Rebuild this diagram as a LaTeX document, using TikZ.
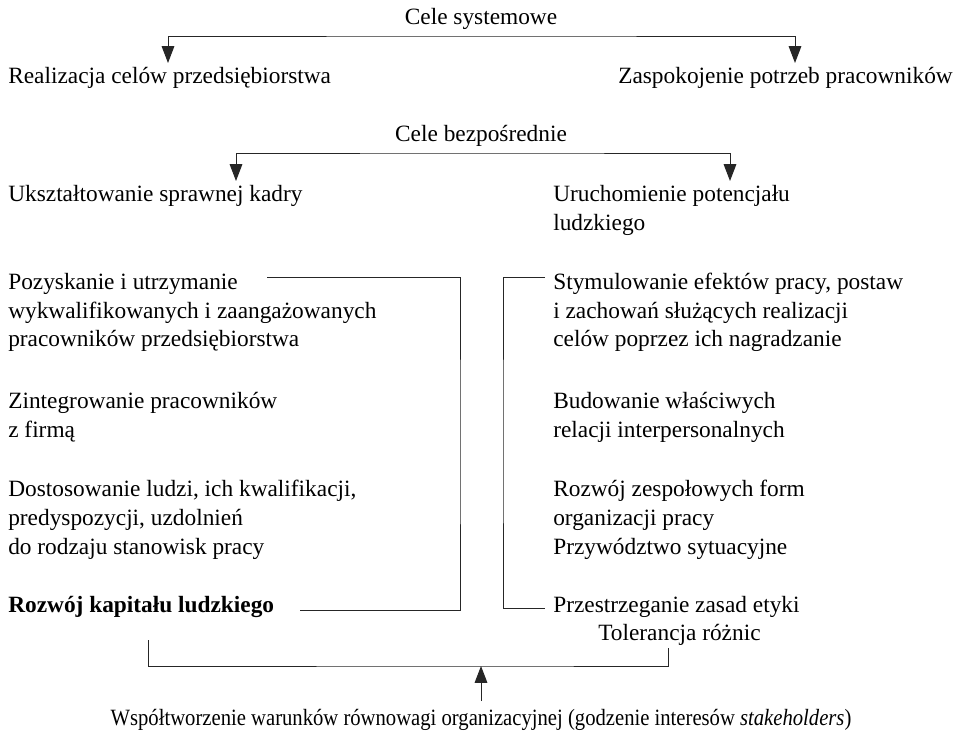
\documentclass[tikz,border=0pt]{standalone}
\usepackage{fontspec}
\setmainfont{Liberation Serif}
\newfontfamily\narrowSerif{Liberation Serif}[FakeStretch=0.885]
\usepackage{tikz}
\usetikzlibrary{arrows.meta}

\begin{document}
\begin{tikzpicture}[
							x=0.025cm, y=-0.025cm,
							txtLeft/.style={anchor=base west, inner sep=0pt, align=left, font=\fontsize{16.6pt}{20.3pt}\selectfont},
							txtMid/.style={anchor=base, inner sep=0pt, align=center, font=\fontsize{16.6pt}{20.3pt}\selectfont},
							line/.style={draw=black!85, line width=0.7pt},
							arrDown/.style={line, -{Triangle[length=12pt, width=9pt]}},
							arrBoth/.style={line, {Triangle[length=12pt, width=9pt]}-{Triangle[length=12pt, width=9pt]}}
						]
						\useasboundingbox (0,0) rectangle (960,734);
						
						% (multi-line nodes sit on the baseline of their last line)
						\node[txtMid] (nodeSys) at (481.00, 25.00) {Cele systemowe};
						\node[txtLeft] (nodeReal) at (8.00, 84.00) {Realizacja celów przedsiębiorstwa};
						\node[txtLeft] (nodeZasp) at (618.00, 84.00) {Zaspokojenie potrzeb pracowników};
						
						\node[txtMid] (nodeBezp) at (481.00, 142.00) {Cele bezpośrednie};
						\node[txtLeft] (nodeKadra) at (8.00, 202.00) {Ukształtowanie sprawnej kadry};
						\node[txtLeft] (nodePotenc) at (553.00, 230.50) {Uruchomienie potencjału\\ludzkiego};
						
						\node[txtLeft] (nodePoz) at (8.00, 347.00) {Pozyskanie i utrzymanie\\wykwalifikowanych i zaangażowanych\\pracowników przedsiębiorstwa};
						\node[txtLeft] (nodeInteg) at (8.00, 437.50) {Zintegrowanie pracowników\\z firmą};
						\node[txtLeft] (nodeDost) at (8.00, 554.00) {Dostosowanie ludzi, ich kwalifikacji,\\predyspozycji, uzdolnień\\do rodzaju stanowisk pracy};
						\node[txtLeft] (nodeKapit) at (8.00, 612.00) {\bfseries Rozwój kapitału ludzkiego};
						
						\node[txtLeft] (nodeStym) at (553.00, 347.00) {Stymulowanie efektów pracy, postaw\\i zachowań służących realizacji\\celów poprzez ich nagradzanie};
						\node[txtLeft] (nodeRelac) at (553.00, 437.50) {Budowanie właściwych\\relacji interpersonalnych};
						\node[txtLeft] (nodeZesp) at (553.00, 554.00) {Rozwój zespołowych form\\organizacji pracy\\Przywództwo sytuacyjne};
						\node[txtLeft] (nodeEtyka) at (553.00, 612.00) {Przestrzeganie zasad etyki};
						\node[txtLeft] (nodeToler) at (598.00, 640.00) {Tolerancja różnic};
						
						\node[txtMid] (nodeWspol) at (481.00, 725.00) {\narrowSerif Współtworzenie warunków równowagi organizacyjnej (godzenie interesów \textit{stakeholders})};
						
						% punkty lacznikow
						\coordinate (sysMid) at (481.00, 36.00);
						\coordinate (sysL) at (168.00, 63.00);
						\coordinate (sysR) at (795.00, 63.00);
						\coordinate (bezpMid) at (481.00, 153.00);
						\coordinate (bezpL) at (236.00, 181.00);
						\coordinate (bezpR) at (730.00, 181.00);
						\coordinate (brLtop) at (267.00, 277.00);
						\coordinate (brLbot) at (300.00, 610.00);
						\coordinate (brLside) at (460.00, 440.00);
						\coordinate (brRtop) at (545.00, 277.00);
						\coordinate (brRbot) at (545.00, 608.00);
						\coordinate (brRside) at (503.00, 440.00);
						\coordinate (botL) at (148.00, 640.00);
						\coordinate (botR) at (668.00, 648.00);
						\coordinate (botMid) at (481.00, 666.00);
						\coordinate (botTail) at (481.00, 701.00);
						
						\draw [arrBoth] (sysL) |- (sysMid) -| (sysR);
						\draw [arrBoth] (bezpL) |- (bezpMid) -| (bezpR);
						\draw [line] (brLtop) -| (brLside) |- (brLbot);
						\draw [line] (brRtop) -| (brRside) |- (brRbot);
						\draw [line] (botL) |- (botMid) -| (botR);
						\draw [arrDown] (botTail) to (botMid);
					\end{tikzpicture}
\end{document}
